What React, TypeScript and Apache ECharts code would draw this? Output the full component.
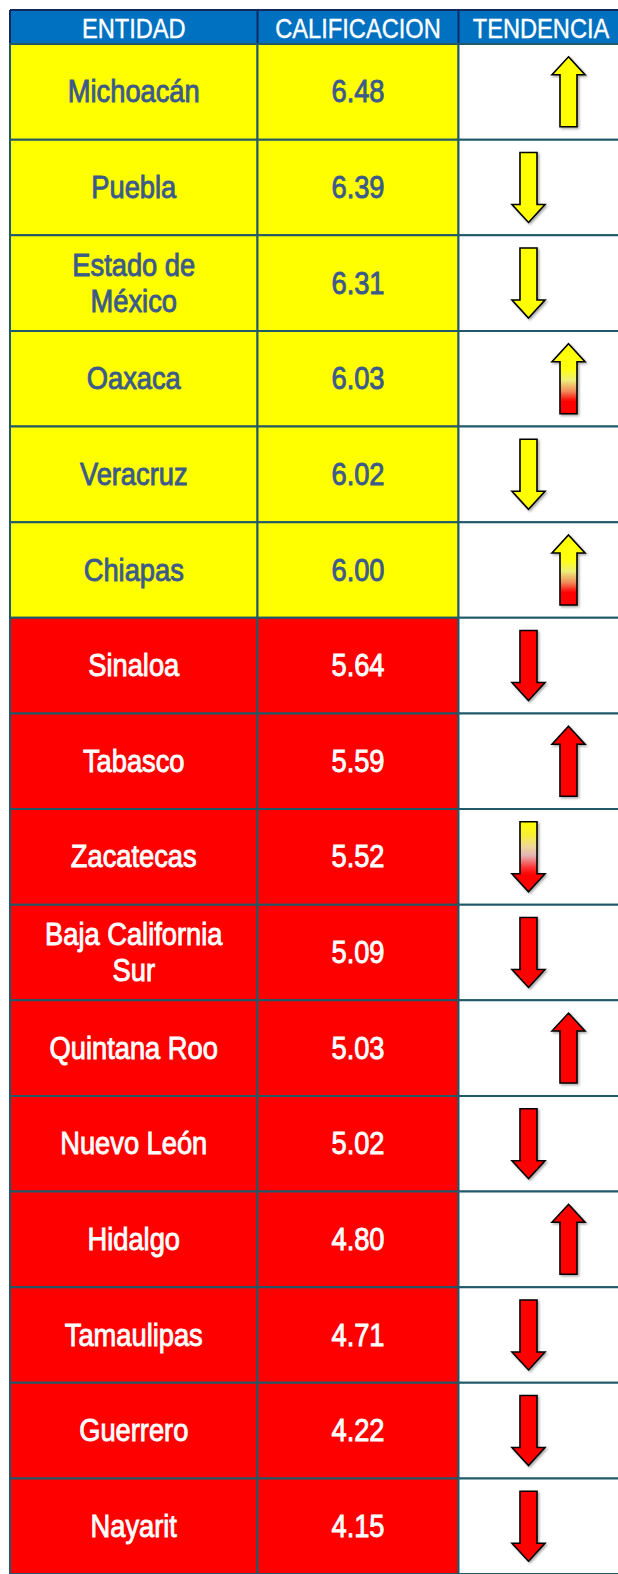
import React, { useEffect, useRef } from "react";
import * as echarts from "echarts";

const headers = ["ENTIDAD", "CALIFICACION", "TENDENCIA"];
const entities = [
  "Michoacán",
  "Puebla",
  "Estado de\nMéxico",
  "Oaxaca",
  "Veracruz",
  "Chiapas",
  "Sinaloa",
  "Tabasco",
  "Zacatecas",
  "Baja California\nSur",
  "Quintana Roo",
  "Nuevo León",
  "Hidalgo",
  "Tamaulipas",
  "Guerrero",
  "Nayarit",
];
const scores = [6.48, 6.39, 6.31, 6.03, 6.02, 6.0, 5.64, 5.59, 5.52, 5.09, 5.03, 5.02, 4.8, 4.71, 4.22, 4.15];
const trends = ["up", "down", "down", "up", "down", "up", "down", "up", "down", "down", "up", "down", "up", "down", "down", "down"];
const arrowColors = ["yellow", "yellow", "yellow", "mix", "yellow", "mix", "red", "red", "mix", "red", "red", "red", "red", "red", "red", "red"];

const YELLOW = "#FFFF00";
const RED = "#FF0000";
const BORDER = "#215968";
const HEADER_BG = "#0070C0";
const HEADER_BORDER = "#12295E";
const DARK_TEXT = "#3C5A8A";
const FONT = "'Liberation Sans', Arial, sans-serif";

// column geometry (layout)
const colLeft = [10, 257.5, 458.5];
const colWidth = [247.5, 201, 200];
const TOP = 44;
const HEIGHT = 1533;

function upGradient() {
  return new echarts.graphic.LinearGradient(0, 0, 0, 1, [
    { offset: 0, color: "#FFFF00" },
    { offset: 0.36, color: "#FFFF10" },
    { offset: 0.52, color: "#EEEE78" },
    { offset: 0.68, color: "#F08A5A" },
    { offset: 0.82, color: "#FF0000" },
    { offset: 1, color: "#FF0000" },
  ]);
}
function downGradient() {
  return new echarts.graphic.LinearGradient(0, 0, 0, 1, [
    { offset: 0, color: "#FFFF00" },
    { offset: 0.18, color: "#F8F030" },
    { offset: 0.35, color: "#EED898" },
    { offset: 0.48, color: "#E6B4B4" },
    { offset: 0.66, color: "#FF3030" },
    { offset: 0.76, color: "#FF0000" },
    { offset: 1, color: "#FF0000" },
  ]);
}

function rowFill(i: number) {
  return scores[i] >= 6 ? YELLOW : RED;
}
function rowText(i: number) {
  return scores[i] >= 6 ? DARK_TEXT : "#FFFFFF";
}

function cellRect(api: any, idx: number) {
  const c = api.coord([0, idx]);
  const s = api.size([0, 1]);
  const w = s[0];
  const h = s[1];
  return { cx: c[0], cy: c[1], x: c[0] - w / 2, y: c[1] - h / 2, w, h };
}

function textEl(cx: number, cy: number, text: string, color: string) {
  return {
    type: "text",
    x: cx,
    y: cy,
    scaleX: 0.88,
    style: {
      text,
      fill: color,
      stroke: color,
      lineWidth: 0.9,
      font: `31px ${FONT}`,
      align: "center",
      verticalAlign: "middle",
      lineHeight: 36,
    },
  };
}

export default function App() {
  const ref = useRef<HTMLDivElement>(null);
  useEffect(() => {
    document.body.style.margin = "0";
    const chart = echarts.init(ref.current!, undefined, { renderer: "svg" });
    const rowData = entities.map((_, i) => [0, i]);

    const grids = colLeft.map((l, k) => ({ left: l, top: TOP, width: colWidth[k], height: HEIGHT }));
    const xAxes = headers.map((h, k) => ({ type: "category", gridIndex: k, data: [h], show: false }));
    const yAxes = headers.map((_, k) => ({
      type: "category",
      gridIndex: k,
      data: entities,
      inverse: true,
      show: false,
    }));

    const series: any[] = [
      {
        type: "custom",
        xAxisIndex: 0,
        yAxisIndex: 0,
        data: rowData,
        renderItem: (params: any, api: any) => {
          const i = api.value(1);
          const r = cellRect(api, i);
          return {
            type: "group",
            children: [
              {
                type: "rect",
                shape: { x: r.x, y: r.y, width: r.w, height: r.h },
                style: { fill: rowFill(i), stroke: BORDER, lineWidth: 2 },
              },
              textEl(r.cx, r.cy, entities[i], rowText(i)),
            ],
          };
        },
      },
      {
        type: "custom",
        xAxisIndex: 1,
        yAxisIndex: 1,
        data: rowData,
        renderItem: (params: any, api: any) => {
          const i = api.value(1);
          const r = cellRect(api, i);
          return {
            type: "group",
            children: [
              {
                type: "rect",
                shape: { x: r.x, y: r.y, width: r.w, height: r.h },
                style: { fill: rowFill(i), stroke: BORDER, lineWidth: 2 },
              },
              textEl(r.cx, r.cy, scores[i].toFixed(2), rowText(i)),
            ],
          };
        },
      },
      {
        type: "custom",
        xAxisIndex: 2,
        yAxisIndex: 2,
        data: rowData,
        renderItem: (params: any, api: any) => {
          const i = api.value(1);
          const r = cellRect(api, i);
          const up = trends[i] === "up";
          const ax = r.x + (up ? 110 : 70);
          const ay = r.cy;
          const hh = 35, hw = 16.5, sw = 8.5, head = 18;
          const pts = up
            ? [
                [ax, ay - hh],
                [ax + hw, ay - hh + head],
                [ax + sw, ay - hh + head],
                [ax + sw, ay + hh],
                [ax - sw, ay + hh],
                [ax - sw, ay - hh + head],
                [ax - hw, ay - hh + head],
              ]
            : [
                [ax, ay + hh],
                [ax + hw, ay + hh - head],
                [ax + sw, ay + hh - head],
                [ax + sw, ay - hh],
                [ax - sw, ay - hh],
                [ax - sw, ay + hh - head],
                [ax - hw, ay + hh - head],
              ];
          const kind = arrowColors[i];
          const fill =
            kind === "yellow" ? YELLOW : kind === "red" ? RED : up ? upGradient() : downGradient();
          const lineStyle = { stroke: BORDER, lineWidth: 2 };
          return {
            type: "group",
            children: [
              {
                type: "rect",
                shape: { x: r.x, y: r.y, width: r.w, height: r.h },
                style: { fill: "#FFFFFF" },
              },
              { type: "line", shape: { x1: r.x, y1: r.y, x2: r.x + r.w, y2: r.y }, style: lineStyle },
              { type: "line", shape: { x1: r.x, y1: r.y + r.h, x2: r.x + r.w, y2: r.y + r.h }, style: lineStyle },
              { type: "line", shape: { x1: r.x, y1: r.y, x2: r.x, y2: r.y + r.h }, style: lineStyle },
              {
                type: "polygon",
                shape: { points: pts },
                style: {
                  fill,
                  stroke: "#000000",
                  lineWidth: 1.6,
                  shadowBlur: 2,
                  shadowColor: "rgba(0,0,0,0.35)",
                  shadowOffsetX: 1.5,
                  shadowOffsetY: 1.5,
                },
              },
            ],
          };
        },
      },
    ];

    const hdrLine = { stroke: HEADER_BORDER, lineWidth: 2 };
    const headerGraphics: any[] = [
      {
        type: "rect",
        shape: { x: 10, y: 10, width: 650, height: 34 },
        style: { fill: HEADER_BG },
      },
      { type: "line", shape: { x1: 10, y1: 10, x2: 660, y2: 10 }, style: hdrLine },
      { type: "line", shape: { x1: 10, y1: 44, x2: 660, y2: 44 }, style: hdrLine },
      { type: "line", shape: { x1: 10, y1: 10, x2: 10, y2: 44 }, style: hdrLine },
      { type: "line", shape: { x1: 257.5, y1: 10, x2: 257.5, y2: 44 }, style: hdrLine },
      { type: "line", shape: { x1: 458.5, y1: 10, x2: 458.5, y2: 44 }, style: hdrLine },
      ...headers.map((h, k) => ({
        type: "text",
        x: colLeft[k] + (k === 2 ? 82.5 : colWidth[k] / 2),
        y: 28,
        scaleX: 0.86,
        style: {
          text: h,
          fill: "#FFFFFF",
          stroke: "#FFFFFF",
          lineWidth: 0.4,
          font: `27.5px ${FONT}`,
          align: "center",
          verticalAlign: "middle",
        },
      })),
    ];

    chart.setOption({
      animation: false,
      backgroundColor: "#FFFFFF",
      grid: grids,
      xAxis: xAxes,
      yAxis: yAxes,
      series,
      graphic: headerGraphics,
    });
    return () => chart.dispose();
  }, []);
  return <div ref={ref} style={{ width: 618, height: 1574, position: "absolute", left: 0, top: 0 }} />;
}
